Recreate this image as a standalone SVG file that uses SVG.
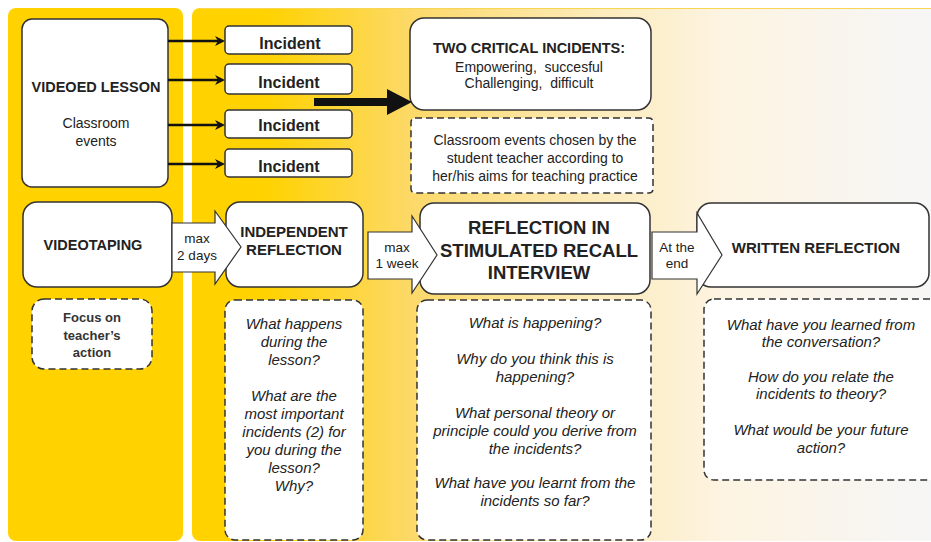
<svg xmlns="http://www.w3.org/2000/svg" width="931" height="542" viewBox="0 0 931 542">
<defs>
<linearGradient id="rg" x1="192" y1="0" x2="931" y2="0" gradientUnits="userSpaceOnUse">
<stop offset="0" stop-color="#FFD200"/>
<stop offset="0.1" stop-color="#FFD200"/>
<stop offset="0.3" stop-color="#FCD96A"/>
<stop offset="0.55" stop-color="#FCEBBB"/>
<stop offset="0.72" stop-color="#FDF4E2"/>
<stop offset="1" stop-color="#F6F6F6"/>
</linearGradient>
<marker id="ah" viewBox="0 0 10 10" refX="6" refY="5" markerWidth="10" markerHeight="10" markerUnits="userSpaceOnUse" orient="auto">
<path d="M0,0 L10,5 L0,10 L3,5 Z" fill="#111"/>
</marker>
</defs>
<style>
.box{fill:#fff;stroke:#333;stroke-width:1.5}
.dash{fill:#fff;stroke:#333;stroke-width:1.5;stroke-dasharray:7 4}
.blk{fill:#fff;stroke:#333;stroke-width:1.2}
text{font-family:"Liberation Sans",Arial,sans-serif;fill:#222;text-anchor:middle}
.b{font-weight:bold}
.t145{font-size:14.5px}
.t14{font-size:14px}
.t16{font-size:16px}
.t15{font-size:15px}
.t13{font-size:13.5px}
.big{font-size:18.5px;font-weight:bold}
.it{font-size:15px;font-style:italic}
.conn{stroke:#111;stroke-width:2.5;fill:none}
</style>
<rect width="931" height="542" fill="#fff"/>
<g id="panels">
<rect x="8" y="8" width="175" height="533" rx="8" fill="#FFD200"/>
<rect x="192" y="8" width="760" height="533" rx="8" fill="url(#rg)"/>
<line x1="200" y1="8.5" x2="931" y2="8.5" stroke="#F8D552" stroke-width="1"/>
</g>
<g id="videoed-lesson">
<rect class="box" x="22" y="19" width="146" height="168" rx="10"/>
<text class="b t145" x="96" y="92">VIDEOED LESSON</text>
<text class="t14" x="96" y="128">Classroom</text>
<text class="t14" x="96" y="146">events</text>
</g>
<g id="incident-1"><rect class="box" x="225" y="26" width="127" height="28" rx="4"/><text class="b t16" x="290" y="49">Incident</text></g>
<g id="incident-2"><rect class="box" x="225" y="64" width="127" height="30" rx="4"/><text class="b t16" x="289" y="88">Incident</text></g>
<g id="incident-3"><rect class="box" x="225" y="110" width="127" height="28" rx="4"/><text class="b t16" x="289" y="131">Incident</text></g>
<g id="incident-4"><rect class="box" x="225" y="149" width="127" height="28" rx="4"/><text class="b t16" x="289" y="172">Incident</text></g>
<g id="two-critical">
<rect class="box" x="410" y="18" width="241" height="92" rx="14"/>
<text class="b t145" x="529" y="53">TWO CRITICAL INCIDENTS:</text>
<text class="t14" x="529" y="72" xml:space="preserve">Empowering,  succesful</text>
<text class="t14" x="529" y="88" xml:space="preserve">Challenging,  difficult</text>
</g>
<g id="chosen-note">
<rect class="dash" x="411" y="118" width="242" height="75" rx="4"/>
<text class="t14" x="535" y="145">Classroom events chosen by the</text>
<text class="t14" x="535" y="163">student teacher according to</text>
<text class="t14" x="535" y="181">her/his aims for teaching practice</text>
</g>
<g id="videotaping">
<rect class="box" x="23" y="202" width="149" height="85" rx="14"/>
<text class="b t145" x="93" y="250">VIDEOTAPING</text>
</g>
<g id="focus-note">
<rect class="dash" x="32" y="299" width="120" height="70" rx="12"/>
<text class="b" style="font-size:13px;fill:#333" x="92" y="322">Focus on</text>
<text class="b" style="font-size:13px;fill:#333" x="92" y="340">teacher’s</text>
<text class="b" style="font-size:13px;fill:#333" x="92" y="357">action</text>
</g>
<g id="independent-reflection">
<rect class="box" x="226" y="202" width="137" height="85" rx="14"/>
<text class="b t15" x="294" y="237">INDEPENDENT</text>
<text class="b t15" x="294" y="255">REFLECTION</text>
</g>
<g id="independent-questions">
<rect class="dash" x="225" y="300" width="138" height="240" rx="10"/>
<text class="it" x="294" y="329">What happens</text>
<text class="it" x="294" y="347">during the</text>
<text class="it" x="294" y="365">lesson?</text>
<text class="it" x="294" y="401">What are the</text>
<text class="it" x="294" y="419">most important</text>
<text class="it" x="294" y="437">incidents (2) for</text>
<text class="it" x="294" y="455">you during the</text>
<text class="it" x="294" y="473">lesson?</text>
<text class="it" x="294" y="491">Why?</text>
</g>
<g id="stimulated-recall">
<rect class="box" x="420" y="203" width="230" height="91" rx="14"/>
<text class="big" x="539" y="234">REFLECTION IN</text>
<text class="big" x="539" y="257">STIMULATED RECALL</text>
<text class="big" x="539" y="279">INTERVIEW</text>
</g>
<g id="recall-questions">
<rect class="dash" x="417" y="300" width="234" height="240" rx="10"/>
<text class="it" x="535" y="328">What is happening?</text>
<text class="it" x="535" y="364">Why do you think this is</text>
<text class="it" x="535" y="382">happening?</text>
<text class="it" x="535" y="418">What personal theory or</text>
<text class="it" x="535" y="436">principle could you derive from</text>
<text class="it" x="535" y="454">the incidents?</text>
<text class="it" x="535" y="488">What have you learnt from the</text>
<text class="it" x="535" y="506">incidents so far?</text>
</g>
<g id="written-reflection">
<rect class="box" x="697" y="203" width="232" height="84" rx="14"/>
<text class="b t15" x="816" y="253">WRITTEN REFLECTION</text>
</g>
<g id="written-questions">
<rect class="dash" x="704" y="299" width="245" height="181" rx="10"/>
<text class="it" x="821" y="330">What have you learned from</text>
<text class="it" x="821" y="347">the conversation?</text>
<text class="it" x="821" y="382">How do you relate the</text>
<text class="it" x="821" y="399">incidents to theory?</text>
<text class="it" x="821" y="435">What would be your future</text>
<text class="it" x="821" y="453">action?</text>
</g>
<g id="connectors">
<line class="conn" x1="168" y1="41" x2="221" y2="41" marker-end="url(#ah)"/>
<line class="conn" x1="168" y1="80" x2="221" y2="80" marker-end="url(#ah)"/>
<line class="conn" x1="168" y1="125" x2="221" y2="125" marker-end="url(#ah)"/>
<line class="conn" x1="168" y1="164" x2="221" y2="164" marker-end="url(#ah)"/>
<path d="M314,98 L387,98 L387,89 L412,102 L387,115 L387,106 L314,106 Z" fill="#111"/>
<g id="arrow-2days">
<path class="blk" d="M172,223 L215,223 L215,211 L241,247 L215,284 L215,272 L172,272 Z"/>
<text class="t13" x="197" y="243">max</text>
<text class="t13" x="197" y="260">2 days</text>
</g>
<g id="arrow-1week">
<path class="blk" d="M368,232 L412,232 L412,216 L437,255 L412,293 L412,279 L368,279 Z"/>
<text class="t13" x="397" y="252">max</text>
<text class="t13" x="397" y="268">1 week</text>
</g>
<g id="arrow-end">
<path class="blk" d="M652,232 L697,232 L697,213 L722,255 L697,294 L697,279 L652,279 Z"/>
<text class="t13" x="677" y="252">At the</text>
<text class="t13" x="677" y="268">end</text>
</g>
</g>
</svg>
